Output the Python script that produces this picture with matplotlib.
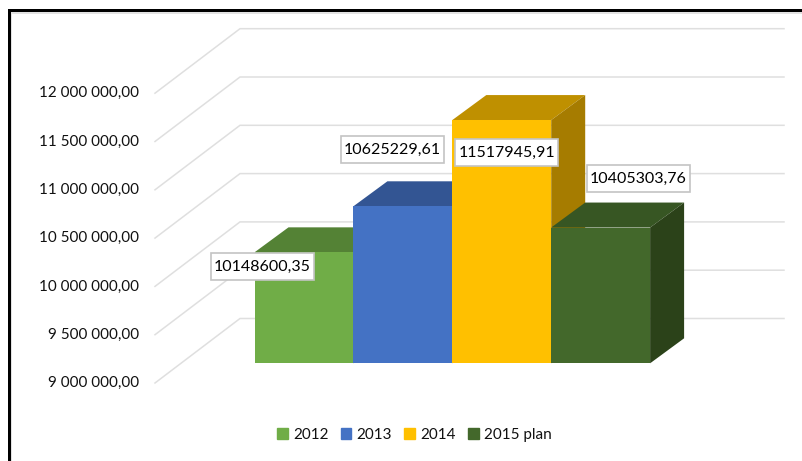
import matplotlib
matplotlib.use("Agg")
import matplotlib.pyplot as plt
from matplotlib.patches import Patch, Rectangle

plt.rcParams["font.family"] = ["Lato", "DejaVu Sans"]

# data
years = ["2012", "2013", "2014", "2015 plan"]
values = [10148600.35, 10625229.61, 11517945.91, 10405303.76]
ticks = [9000000, 9500000, 10000000, 10500000, 11000000, 11500000, 12000000]

front_colors = ["#70AD47", "#4472C4", "#FFC000", "#43682B"]
top_colors = ["#548235", "#335593", "#BF9000", "#375623"]
side_colors = ["#43682B", "#294478", "#A67C00", "#2B4219"]

W, H = 802, 461
BAR_LEFT = 254.5      # px, left edge of the first bar
BAR_STEP = 98.9       # px per category
BASE_Y = 363.3        # px, bottom of the bars
PX_PER_UNIT = 96.6e-6 # px per value unit


def px_x(p):
    return (p - BAR_LEFT) / BAR_STEP


def px_y(p):
    return ticks[0] + (BASE_Y - p) / PX_PER_UNIT


def fmt_tick(v):
    return f"{v:,.2f}".replace(",", " ").replace(".", ",")


def fmt_label(v):
    return f"{v:.2f}".replace(".", ",")


fig = plt.figure(figsize=(W / 100, H / 100), dpi=100)
ax = fig.add_axes([0, 0, 1, 1])
ax.set_xlim(px_x(0), px_x(W))
ax.set_ylim(px_y(H), px_y(0))
ax.axis("off")

# depth of the 3D box, in data units
dx = 34 / BAR_STEP
dy = 25 / PX_PER_UNIT

# outer frame of the screenshot
ax.add_patch(Rectangle((px_x(11), px_y(H)), px_x(12.2) - px_x(11), px_y(13) - px_y(H), color="#e2e2e2", lw=0, zorder=1))
ax.add_patch(Rectangle((px_x(11), px_y(14.2)), px_x(W) - px_x(11), px_y(12.5) - px_y(14.2), color="#e2e2e2", lw=0, zorder=1))
ax.add_patch(Rectangle((px_x(7.5), px_y(H)), px_x(11) - px_x(7.5), px_y(9.5) - px_y(H), color="black", lw=0, zorder=2))
ax.add_patch(Rectangle((px_x(7.5), px_y(12.5)), px_x(W) - px_x(7.5), px_y(9.5) - px_y(12.5), color="black", lw=0, zorder=2))

# gridlines on the wall and floor
front_shift = px_y(383) - ticks[0]
back_shift = px_y(318.5) - ticks[0]
for t in ticks:
    ax.plot([px_x(155), px_x(240), px_x(784)],
            [t + front_shift, t + back_shift, t + back_shift],
            color="#dfdfdf", lw=1.1, zorder=3, solid_joinstyle="miter")
    ax.text(px_x(139), t + front_shift, fmt_tick(t), ha="right", va="center",
            fontsize=11, color="#111111", zorder=3)

# bars, left to right so each one hides the side of the previous
for i, v in enumerate(values):
    z = 10 + i
    l, r = i, i + 1
    b = ticks[0]
    ax.bar(l, v - b, width=1, bottom=b, align="edge", color=front_colors[i], lw=0, zorder=z + 0.2)
    ax.fill([l, r, r + dx, l + dx], [v, v, v + dy, v + dy], color=top_colors[i], lw=0, zorder=z)
    ax.fill([r, r + dx, r + dx, r], [b, b + dy, v + dy, v], color=side_colors[i], lw=0, zorder=z)

# data labels in white boxes
label_px = [(262.5, 266.5), (392.5, 149.5), (506.5, 152.5), (638.5, 178.5)]
box_w, box_h = 103, 27
for v, (lx, ly) in zip(values, label_px):
    ax.add_patch(Rectangle((px_x(lx - box_w / 2), px_y(ly + box_h / 2)),
                           box_w / BAR_STEP, box_h / PX_PER_UNIT,
                           fc="white", ec="#c4c4c4", lw=1.2, zorder=29))
    ax.text(px_x(lx), px_y(ly), fmt_label(v), ha="center", va="center", fontsize=11.5,
            color="#000000", zorder=30)

handles = [Patch(color=c, label=y) for c, y in zip(front_colors, years)]
ax.legend(handles=handles, ncol=4, loc="center", bbox_to_anchor=(414.5 / W, 1 - 435 / H),
          frameon=False, fontsize=11, handlelength=0.7, handleheight=0.7,
          handletextpad=0.35, columnspacing=0.8, labelcolor="#111111", borderpad=0)

fig.savefig("out.png", dpi=100)
